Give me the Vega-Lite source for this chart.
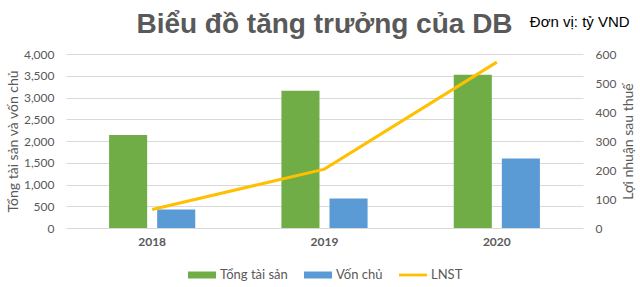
{
  "$schema": "https://vega.github.io/schema/vega-lite/v6.json",
  "width": 517,
  "height": 174,
  "autosize": {"type": "none"},
  "padding": {"left": 66, "top": 54, "right": 57, "bottom": 59},
  "background": "white",
  "title": {
    "text": "Biểu đồ tăng trưởng của DB",
    "font": "Liberation Sans",
    "fontSize": 28,
    "fontWeight": "bold",
    "color": "#595959",
    "anchor": "middle",
    "baseline": "alphabetic",
    "offset": -46
  },
  "data": {
    "values": [
      {"year": "2018", "series": "Tổng tài sản", "value": 2138},
      {"year": "2018", "series": "Vốn chủ", "value": 424},
      {"year": "2018", "series": "LNST", "value": 64},
      {"year": "2019", "series": "Tổng tài sản", "value": 3153},
      {"year": "2019", "series": "Vốn chủ", "value": 678},
      {"year": "2019", "series": "LNST", "value": 203},
      {"year": "2020", "series": "Tổng tài sản", "value": 3522},
      {"year": "2020", "series": "Vốn chủ", "value": 1596},
      {"year": "2020", "series": "LNST", "value": 572}
    ]
  },
  "config": {
    "view": {"stroke": null},
    "axis": {
      "labelFont": "Lato",
      "titleFont": "Lato",
      "labelColor": "#595959",
      "titleColor": "#595959",
      "labelFontSize": 12,
      "titleFontSize": 14,
      "titleFontWeight": "normal",
      "gridColor": "#D9D9D9",
      "gridWidth": 1,
      "domain": false,
      "ticks": false
    },
    "legend": {
      "orient": "none",
      "legendX": 122,
      "legendY": 207,
      "direction": "horizontal",
      "labelFont": "Lato",
      "labelFontSize": 13,
      "labelColor": "#595959",
      "symbolSize": 784,
      "labelOffset": 4,
      "columnPadding": 16
    }
  },
  "encoding": {
    "x": {
      "field": "year",
      "type": "nominal",
      "scale": {"paddingInner": 0, "paddingOuter": 0},
      "axis": {
        "title": null,
        "labelAngle": 0,
        "labelFontWeight": "bold",
        "labelPadding": 8,
        "grid": false
      }
    }
  },
  "layer": [
    {
      "transform": [{"filter": "datum.series !== 'LNST'"}],
      "mark": {"type": "bar"},
      "encoding": {
        "xOffset": {
          "field": "series",
          "type": "nominal",
          "sort": ["Tổng tài sản", "Vốn chủ"],
          "scale": {"paddingInner": 0.208, "paddingOuter": 0.896}
        },
        "y": {
          "field": "value",
          "type": "quantitative",
          "scale": {"domain": [0, 4000], "nice": false},
          "axis": {
            "title": "Tổng tài sản và vốn chủ",
            "values": [0, 500, 1000, 1500, 2000, 2500, 3000, 3500, 4000],
            "format": ",.0f",
            "grid": true,
            "labelPadding": 12,
            "titlePadding": 3
          }
        },
        "color": {
          "field": "series",
          "type": "nominal",
          "scale": {
            "domain": ["Tổng tài sản", "Vốn chủ", "LNST"],
            "range": ["#70AD47", "#5B9BD5", "#FFC000"]
          },
          "legend": {
            "title": null,
            "symbolStrokeWidth": 0,
            "encode": {
              "symbols": {
                "update": {
                  "shape": {"signal": "datum.value === 'LNST' ? 'M-1,-0.1H1V0.1H-1Z' : 'M-1,-0.25H1V0.25H-1Z'"},
                  "fill": {"scale": "color", "field": "value"},
                  "stroke": {"value": "transparent"},
                  "opacity": {"value": 1}
                }
              }
            }
          }
        }
      }
    },
    {
      "transform": [{"filter": "datum.series === 'LNST'"}],
      "mark": {"type": "line", "strokeWidth": 3},
      "encoding": {
        "y": {
          "field": "value",
          "type": "quantitative",
          "scale": {"domain": [0, 600], "nice": false},
          "axis": {
            "orient": "right",
            "title": "Lợi nhuận sau thuế",
            "titleAngle": 270,
            "titleBaseline": "top",
            "values": [0, 100, 200, 300, 400, 500, 600],
            "grid": false,
            "labelPadding": 12,
            "titlePadding": 6
          }
        },
        "color": {"field": "series", "type": "nominal"}
      }
    },
    {
      "data": {"values": [{}]},
      "mark": {
        "type": "text",
        "text": "Đơn vị: tỷ VND",
        "align": "left",
        "baseline": "middle",
        "dx": 33,
        "font": "Liberation Sans",
        "fontSize": 15,
        "color": "#000000"
      },
      "encoding": {
        "x": {"datum": "2020", "type": "nominal"},
        "y": {"datum": 4738, "type": "quantitative", "scale": {"domain": [0, 4000], "nice": false}, "axis": null}
      }
    }
  ],
  "resolve": {"scale": {"y": "independent"}}
}
